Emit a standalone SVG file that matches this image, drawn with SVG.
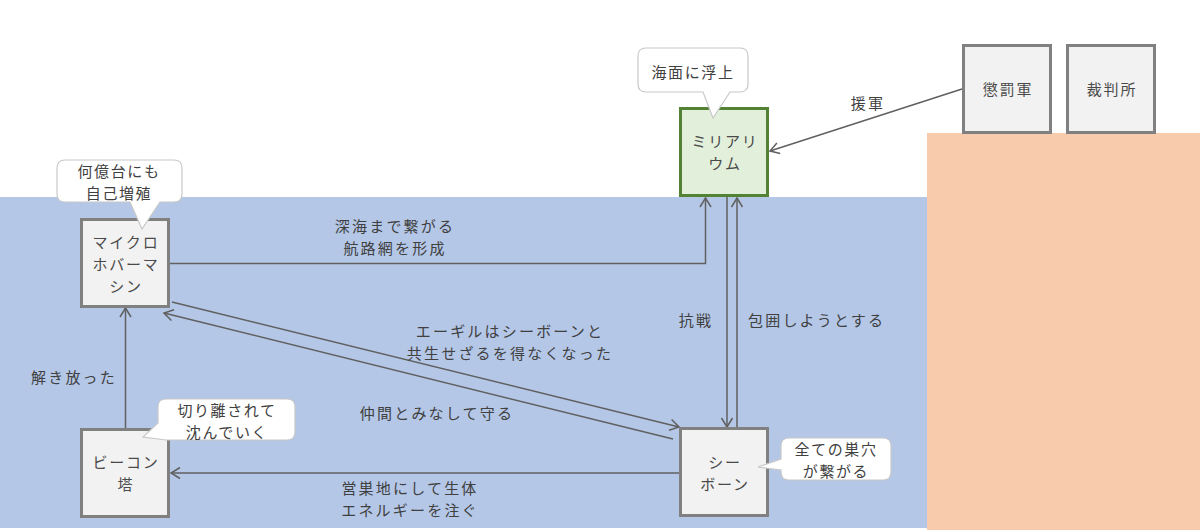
<svg xmlns="http://www.w3.org/2000/svg" width="1200" height="530" viewBox="0 0 1200 530">
<defs>
<style>
text{font-family:"Noto Sans CJK JP","Noto Sans",sans-serif;fill:#404040;font-size:15px;letter-spacing:2.2px;text-anchor:middle;dominant-baseline:central}
.node rect{fill:#f2f2f2;stroke:#808080;stroke-width:3}
.node text{font-size:15px;letter-spacing:1.8px;fill:#4a4a4a}
#n-miliarium rect{fill:#e2efda;stroke:#548235}
.callout path{fill:#ffffff;stroke:#c8c8c8;stroke-width:1.2}
.callout text{letter-spacing:1.6px}
.edge{fill:none;stroke:#606060;stroke-width:1.5}
</style>
<marker id="arr" markerUnits="userSpaceOnUse" markerWidth="14" markerHeight="14" viewBox="0 0 14 14" refX="12" refY="7" orient="auto">
<path d="M3,1.5 L12,7 L3,12.5" fill="none" stroke="#606060" stroke-width="1.5"/>
</marker>
</defs>
<rect x="0" y="0" width="1200" height="530" fill="#ffffff"/>
<rect x="0" y="197" width="927" height="331" fill="#b4c7e7"/>
<rect x="927" y="133" width="273" height="397" fill="#f8cbad"/>

<g id="connectors">
<path class="edge" d="M169,263.5 H705.5 V198" marker-end="url(#arr)"/>
<path class="edge" d="M727,197 V427" marker-end="url(#arr)"/>
<path class="edge" d="M737,428 V198" marker-end="url(#arr)"/>
<path class="edge" d="M962,89 L770,151" marker-end="url(#arr)"/>
<path class="edge" d="M172,302 L679,427" marker-end="url(#arr)"/>
<path class="edge" d="M673,439 L164,313" marker-end="url(#arr)"/>
<path class="edge" d="M125.5,428 V308" marker-end="url(#arr)"/>
<path class="edge" d="M680,473 H171" marker-end="url(#arr)"/>
<text x="395" y="225">深海まで繋がる</text>
<text x="395" y="247">航路網を形成</text>
<text x="696" y="319">抗戦</text>
<text x="748" y="319" style="text-anchor:start">包囲しようとする</text>
<text x="868" y="102">援軍</text>
<text x="510" y="330">エーギルはシーボーンと</text>
<text x="510" y="352">共生せざるを得なくなった</text>
<text x="437" y="412">仲間とみなして守る</text>
<text x="74" y="376">解き放った</text>
<text x="410" y="487">営巣地にして生体</text>
<text x="410" y="509">エネルギーを注ぐ</text>
</g>

<g id="n-miliarium" class="node">
<rect x="680.5" y="108.5" width="87" height="87"/>
<text x="725" y="140">ミリアリ</text>
<text x="725" y="162">ウム</text>
</g>
<g id="n-choubatsu" class="node">
<rect x="963.5" y="45.5" width="87" height="87"/>
<text x="1008" y="88">懲罰軍</text>
</g>
<g id="n-saiban" class="node">
<rect x="1067.5" y="45.5" width="87" height="87"/>
<text x="1112" y="88">裁判所</text>
</g>
<g id="n-micro" class="node">
<rect x="81.5" y="219.5" width="87" height="87"/>
<text x="126" y="241">マイクロ</text>
<text x="126" y="263">ホバーマ</text>
<text x="126" y="285">シン</text>
</g>
<g id="n-beacon" class="node">
<rect x="81.5" y="429.5" width="87" height="87"/>
<text x="126" y="461">ビーコン</text>
<text x="126" y="483">塔</text>
</g>
<g id="n-seaborn" class="node">
<rect x="680.5" y="428.5" width="87" height="87"/>
<text x="725" y="461">シー</text>
<text x="725" y="483">ボーン</text>
</g>

<g id="c-surface" class="callout">
<path d="M646,48 H740 Q748,48 748,56 V84 Q748,92 740,92 H730 L713,118 L703,92 H646 Q638,92 638,84 V56 Q638,48 646,48 Z"/>
<text x="693" y="71">海面に浮上</text>
</g>
<g id="c-micro" class="callout">
<path d="M65,160 H174 Q182,160 182,168 V194 Q182,202 174,202 H160 L142,229 L130,202 H65 Q57,202 57,194 V168 Q57,160 65,160 Z"/>
<text x="119" y="170">何億台にも</text>
<text x="119" y="192">自己増殖</text>
</g>
<g id="c-beacon" class="callout">
<path d="M166,399 H287 Q295,399 295,407 V432 Q295,440 287,440 H166 L143,437 L158,423 V407 Q158,399 166,399 Z"/>
<text x="227" y="409">切り離されて</text>
<text x="227" y="431">沈んでいく</text>
</g>
<g id="c-seaborn" class="callout">
<path d="M789,438 H883 Q891,438 891,446 V472 Q891,480 883,480 H789 Q781,480 781,472 V470 L758,467 L781,459 V446 Q781,438 789,438 Z"/>
<text x="836" y="448">全ての巣穴</text>
<text x="836" y="470">が繋がる</text>
</g>
</svg>
